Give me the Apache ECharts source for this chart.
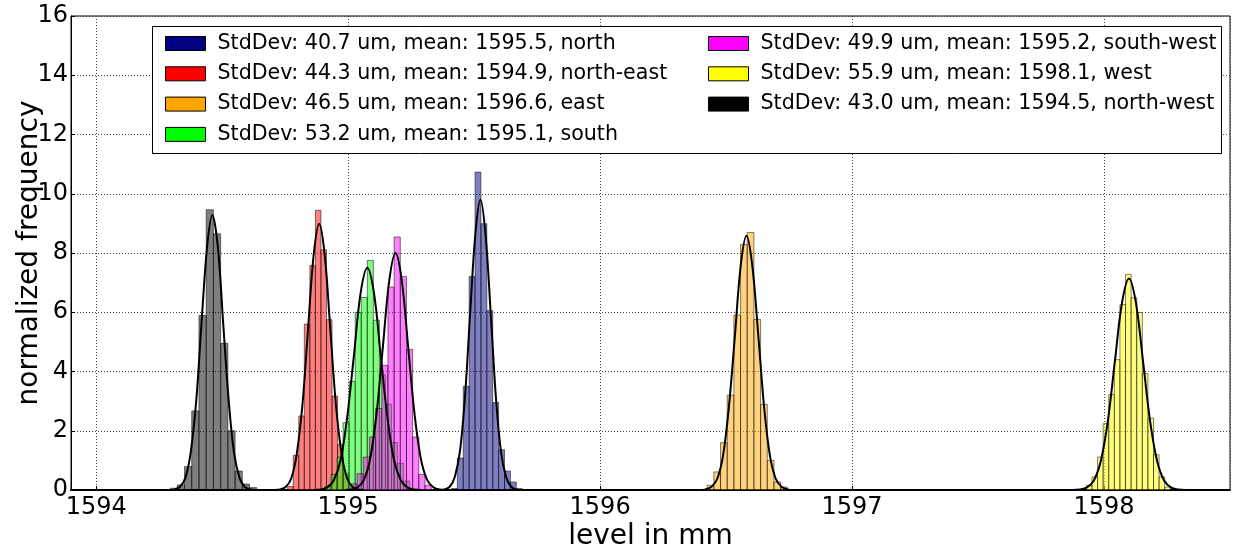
<!DOCTYPE html>
<html>
<head>
<meta charset="utf-8">
<script src="https://cdn.jsdelivr.net/npm/echarts@6/dist/echarts.min.js"></script>
<style>
html, body { margin: 0; padding: 0; background: #fff; }
#chart { width: 1237px; height: 547px; }
</style>
</head>
<body>
<div id="chart"></div>
<script>
// legend labels, one per direction
var labels = [
    'StdDev: 40.7 um, mean: 1595.5, north',
    'StdDev: 44.3 um, mean: 1594.9, north-east',
    'StdDev: 46.5 um, mean: 1596.6, east',
    'StdDev: 53.2 um, mean: 1595.1, south',
    'StdDev: 49.9 um, mean: 1595.2, south-west',
    'StdDev: 55.9 um, mean: 1598.1, west',
    'StdDev: 43.0 um, mean: 1594.5, north-west'
];
var colors = ['#000080', '#ff0000', '#ffa500', '#00ff00', '#ff00ff', '#ffff00', '#000000'];

// histogram bins: first left edge, bin width, normalized heights
var binStart = [1595.410, 1594.760, 1596.425, 1594.908, 1595.011, 1597.930, 1594.293];
var binWidth = [0.0234, 0.0220, 0.0265, 0.0240, 0.0245, 0.0222, 0.0287];
var northHist = [0.05, 1.08, 3.50, 7.21, 10.73, 8.99, 6.06, 2.95, 1.36, 0.64, 0.27, 0.05];
var northEastHist = [0.12, 1.17, 2.50, 5.60, 7.58, 9.44, 8.11, 5.75, 3.17, 1.54, 0.55];
var eastHist = [0.16, 0.61, 1.60, 3.20, 5.90, 8.29, 8.69, 5.76, 2.89, 1.00, 0.27, 0.10];
var southHist = [0.12, 0.52, 1.11, 2.27, 3.67, 6.00, 6.50, 7.75, 5.73, 3.90, 2.90, 1.60, 0.90, 0.30];
var southWestHist = [0.21, 0.55, 1.11, 1.79, 2.75, 4.21, 6.85, 8.54, 7.21, 4.74, 1.79, 0.53, 0.16];
var westHist = [0.16, 0.44, 1.11, 2.24, 3.22, 4.40, 6.26, 7.28, 6.49, 5.99, 3.93, 2.43, 1.19, 0.44, 0.10];
var northWestHist = [0.06, 0.17, 0.79, 2.67, 5.89, 9.46, 8.65, 4.95, 2.00, 0.64, 0.20, 0.08];
var hists = [northHist, northEastHist, eastHist, southHist, southWestHist, westHist, northWestHist];

// fitted curves, points
var northFitX = [1595.362, 1595.383, 1595.403, 1595.423, 1595.444, 1595.464, 1595.484, 1595.505, 1595.525, 1595.545, 1595.566, 1595.586, 1595.606, 1595.627, 1595.647, 1595.667, 1595.688];
var northFitY = [0.00, 0.02, 0.11, 0.43, 1.33, 3.18, 5.94, 8.65, 9.80, 8.65, 5.94, 3.18, 1.33, 0.43, 0.11, 0.02, 0.00];
var northEastFitX = [1594.708, 1594.730, 1594.752, 1594.774, 1594.796, 1594.819, 1594.841, 1594.863, 1594.885, 1594.907, 1594.929, 1594.951, 1594.974, 1594.996, 1595.018, 1595.040, 1595.062];
var northEastFitY = [0.00, 0.02, 0.10, 0.39, 1.22, 2.92, 5.45, 7.93, 8.99, 7.93, 5.45, 2.92, 1.22, 0.39, 0.10, 0.02, 0.00];
var eastFitX = [1596.395, 1596.418, 1596.441, 1596.465, 1596.488, 1596.511, 1596.535, 1596.558, 1596.581, 1596.604, 1596.628, 1596.651, 1596.674, 1596.697, 1596.721, 1596.744, 1596.767];
var eastFitY = [0.00, 0.02, 0.10, 0.38, 1.16, 2.79, 5.20, 7.57, 8.58, 7.57, 5.20, 2.79, 1.16, 0.38, 0.10, 0.02, 0.00];
var southFitX = [1594.863, 1594.890, 1594.916, 1594.943, 1594.970, 1594.996, 1595.023, 1595.049, 1595.076, 1595.103, 1595.129, 1595.156, 1595.182, 1595.209, 1595.236, 1595.262, 1595.289];
var southFitY = [0.00, 0.02, 0.08, 0.33, 1.01, 2.44, 4.55, 6.62, 7.50, 6.62, 4.55, 2.44, 1.01, 0.33, 0.08, 0.02, 0.00];
var southWestFitX = [1594.988, 1595.013, 1595.038, 1595.063, 1595.088, 1595.113, 1595.138, 1595.163, 1595.188, 1595.213, 1595.238, 1595.263, 1595.288, 1595.313, 1595.338, 1595.363, 1595.388];
var southWestFitY = [0.00, 0.02, 0.09, 0.35, 1.08, 2.60, 4.85, 7.06, 8.00, 7.06, 4.85, 2.60, 1.08, 0.35, 0.09, 0.02, 0.00];
var westFitX = [1597.875, 1597.903, 1597.931, 1597.959, 1597.987, 1598.015, 1598.043, 1598.071, 1598.099, 1598.127, 1598.155, 1598.183, 1598.211, 1598.239, 1598.267, 1598.295, 1598.323];
var westFitY = [0.00, 0.02, 0.08, 0.31, 0.97, 2.32, 4.33, 6.30, 7.14, 6.30, 4.33, 2.32, 0.97, 0.31, 0.08, 0.02, 0.00];
var northWestFitX = [1594.289, 1594.311, 1594.332, 1594.354, 1594.375, 1594.397, 1594.418, 1594.440, 1594.461, 1594.483, 1594.504, 1594.526, 1594.547, 1594.569, 1594.590, 1594.612, 1594.633];
var northWestFitY = [0.00, 0.02, 0.10, 0.41, 1.26, 3.01, 5.63, 8.19, 9.28, 8.19, 5.63, 3.01, 1.26, 0.41, 0.10, 0.02, 0.00];
var fitX = [northFitX, northEastFitX, eastFitX, southFitX, southWestFitX, westFitX, northWestFitX];
var fitY = [northFitY, northEastFitY, eastFitY, southFitY, southWestFitY, westFitY, northWestFitY];

var yTicks = [0, 2, 4, 6, 8, 10, 12, 14, 16];

var font = 'DejaVu Sans';
var chart = echarts.init(document.getElementById('chart'), null, {renderer: 'canvas'});

var series = [];
hists.forEach(function (h, k) {
    var data = h.map(function (v, i) {
        var x0 = binStart[k] + i * binWidth[k];
        return [x0, x0 + binWidth[k], v];
    });
    var col = colors[k];
    series.push({
        name: labels[k],
        type: 'custom',
        z: 2,
        itemStyle: {color: col},
        encode: {x: [0, 1], y: 2},
        data: data,
        renderItem: function (params, api) {
            var p0 = api.coord([api.value(0), api.value(2)]);
            var p1 = api.coord([api.value(1), 0]);
            return {
                type: 'rect',
                shape: {x: p0[0], y: p0[1], width: p1[0] - p0[0], height: p1[1] - p0[1]},
                style: {fill: col, stroke: '#000', lineWidth: 1, opacity: 0.5}
            };
        }
    });
});
fitX.forEach(function (xs, k) {
    series.push({
        name: 'fit ' + k,
        type: 'line',
        z: 3,
        smooth: 0.35,
        showSymbol: false,
        silent: true,
        lineStyle: {color: '#000', width: 2},
        data: xs.map(function (x, i) { return [x, fitY[k][i]]; })
    });
});

function legendData(from, to) {
    var out = [];
    for (var i = from; i < to; i++) {
        out.push({name: labels[i], itemStyle: {color: colors[i], borderColor: '#000', borderWidth: 1, opacity: 1}});
    }
    return out;
}
var legendCommon = {
    orient: 'vertical',
    top: 28,
    itemWidth: 40,
    itemHeight: 14,
    itemGap: 9.3,
    icon: 'rect',
    selectedMode: false,
    z: 10,
    textStyle: {fontFamily: font, fontSize: 20.6, lineHeight: 20, color: '#000', padding: [0, 0, 0, 7]}
};

option = {
    animation: false,
    backgroundColor: '#fff',
    grid: {
        left: 71, right: 7, top: 16, bottom: 57,
        show: true, borderColor: '#000', borderWidth: 1,
        outerBoundsMode: 'none'
    },
    legend: [
        Object.assign({left: 160, data: legendData(0, 4)}, legendCommon),
        Object.assign({left: 703, data: legendData(4, 7)}, legendCommon)
    ],
    graphic: [{
        type: 'rect',
        z: 8,
        shape: {x: 152.5, y: 26.5, width: 1069, height: 127},
        style: {fill: '#fff', stroke: '#000', lineWidth: 1}
    }],
    xAxis: {
        type: 'value',
        min: 1593.9,
        max: 1598.5,
        splitNumber: 5,
        name: 'level in mm',
        nameLocation: 'middle',
        nameGap: 33,
        nameMoveOverlap: false,
        nameTextStyle: {fontFamily: font, fontSize: 28, color: '#000'},
        axisLine: {show: true, lineStyle: {color: '#000', width: 2}},
        axisTick: {show: true, inside: true, length: 4, lineStyle: {color: '#000'}},
        axisLabel: {
            fontFamily: font, fontSize: 24, color: '#000', margin: 6,
            showMinLabel: false, showMaxLabel: false,
            formatter: function (v) { return Math.abs(v - Math.round(v)) < 1e-6 ? String(Math.round(v)) : ''; }
        },
        splitLine: {show: true, lineStyle: {color: '#444', type: [1, 2], width: 1}}
    },
    yAxis: {
        type: 'value',
        min: yTicks[0],
        max: yTicks[yTicks.length - 1],
        interval: 2,
        name: 'normalized frequency',
        nameLocation: 'middle',
        nameGap: 27,
        nameMoveOverlap: false,
        nameTextStyle: {fontFamily: font, fontSize: 28, color: '#000'},
        axisLine: {show: true, lineStyle: {color: '#000', width: 1}},
        axisTick: {show: true, inside: true, length: 4, lineStyle: {color: '#000'}},
        axisLabel: {fontFamily: font, fontSize: 24, color: '#000', margin: 3},
        splitLine: {show: true, lineStyle: {color: '#444', type: [1, 2], width: 1}}
    },
    series: series
};
chart.setOption(option);
</script>
</body>
</html>
